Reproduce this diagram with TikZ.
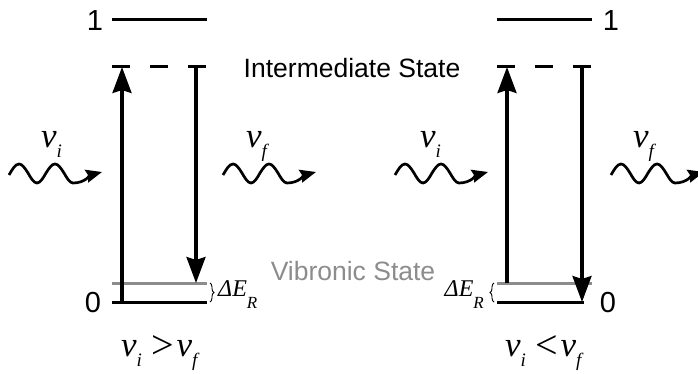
\documentclass[tikz,border=0pt]{standalone}
\usepackage{fontspec}
\setmainfont{Liberation Sans}
\newfontfamily\tnr{Liberation Serif}
\usetikzlibrary{arrows.meta,decorations.pathreplacing}
\newcommand{\vsub}[1]{{\tnr\itshape v}\raisebox{-10pt}{\fontsize{19}{19}\selectfont\tnr\itshape #1}}
\newcommand{\dER}{{\tnr\itshape ΔE}\raisebox{-12pt}{\fontsize{17}{17}\selectfont\tnr\itshape R}}
\newcommand{\relsym}[1]{\hspace*{9pt}\raisebox{-2pt}{\fontsize{40}{40}\selectfont\tnr #1}\hspace*{3pt}}
\begin{document}
\begin{tikzpicture}[x=1pt,y=-1pt,
  level/.style={line width=3pt},
  glevel/.style={line width=3pt,draw=vgray},
  dlevel/.style={line width=3pt,dash pattern=on 18pt off 20pt},
  trans/.style={line width=3.2pt,-{Stealth[length=26pt,width=19pt,inset=3pt]}},
  wave/.style={line width=2.7pt,-{Stealth[length=16pt,width=13pt,inset=2pt]}},
  lab/.style={font=\fontsize{26.5}{26.5}\selectfont,inner sep=0pt},
  dig/.style={font=\fontsize{29}{29}\selectfont,inner sep=0pt},
  glab/.style={lab,text=vgray},
  mlab/.style={font=\fontsize{35}{35}\selectfont,inner sep=0pt,anchor=base west},
  brc/.style={line width=0.9pt,decorate,decoration={brace,amplitude=4pt}},
  dlab/.style={font=\fontsize{24}{24}\selectfont,inner sep=0pt}
]
\definecolor{vgray}{HTML}{8C8C8C}
\useasboundingbox (0,0) rectangle (698,374);

% ---------- left diagram ----------
\coordinate (L1a) at (112,20);  \coordinate (L1b) at (207,20);
\coordinate (LIa) at (112,67);  \coordinate (LIb) at (207,67);
\coordinate (LVa) at (112,283); \coordinate (LVb) at (207,283);
\coordinate (L0a) at (112,302); \coordinate (L0b) at (207,302);
\coordinate (LupS) at (122,302); \coordinate (LupE) at (122,67);
\coordinate (LdnS) at (196,67);  \coordinate (LdnE) at (196,283);
\draw[level] (L1a) -- (L1b);
\draw[dlevel] (LIa) -- (LIb);
\draw[glevel] (LVa) -- (LVb);
\draw[level] (L0a) -- (L0b);
\draw[trans] (LupS) -- (LupE);
\draw[trans] (LdnS) -- (LdnE);
\node[dig] (Lone) at (95,21) {1};
\node[dig] (Lzero) at (93,303) {0};
\coordinate (LbrT) at (210,283); \coordinate (LbrB) at (210,302);
\draw[brc] (LbrT) -- (LbrB);
\node[dlab,anchor=base west] (LdE) at (218,296) {\dER};

% ---------- right diagram ----------
\coordinate (R1a) at (497,20);  \coordinate (R1b) at (592,20);
\coordinate (RIa) at (497,67);  \coordinate (RIb) at (592,67);
\coordinate (RVa) at (497,283); \coordinate (RVb) at (592,283);
\coordinate (R0a) at (497,302); \coordinate (R0b) at (584,302);
\coordinate (RupS) at (507,283); \coordinate (RupE) at (507,67);
\coordinate (RdnS) at (582,67);  \coordinate (RdnE) at (582,302);
\draw[level] (R1a) -- (R1b);
\draw[dlevel] (RIa) -- (RIb);
\draw[glevel] (RVa) -- (RVb);
\draw[level] (R0a) -- (R0b);
\draw[trans] (RupS) -- (RupE);
\draw[trans] (RdnS) -- (RdnE);
\node[dig] (Rone) at (611,21) {1};
\node[dig] (Rzero) at (608,303) {0};
\coordinate (RbrB) at (494,302); \coordinate (RbrT) at (494,283);
\draw[brc] (RbrB) -- (RbrT);
\node[dlab,anchor=base east] (RdE) at (484,296) {\dER};

% ---------- state labels ----------
\node[lab,anchor=base] (inter) at (352,78) {Intermediate State};
\node[glab,anchor=base] (vib) at (353,280) {Vibronic State};

% ---------- photons ----------
\foreach \s/\nm in {8/wA,222/wB,394/wC,610/wD}{
  \draw[wave] (\s+1,175) sin (\s+11,164) cos (\s+20,173) sin (\s+29,183)
    cos (\s+38,173) sin (\s+47,164) cos (\s+56,173) sin (\s+65,183)
    to[out=0,in=195] (\s+94,172);
}
\node[mlab] (nuA) at (41,148) {\vsub{i}};
\node[mlab] (nuB) at (246,148) {\vsub{f}};
\node[mlab] (nuC) at (420,148) {\vsub{i}};
\node[mlab] (nuD) at (633,148) {\vsub{f}};

% ---------- relations ----------
\node[mlab] (relL) at (121,356) {\vsub{i}\relsym{>}\vsub{f}};
\node[mlab] (relR) at (505,356) {\vsub{i}\relsym{<}\vsub{f}};
\end{tikzpicture}
\end{document}
